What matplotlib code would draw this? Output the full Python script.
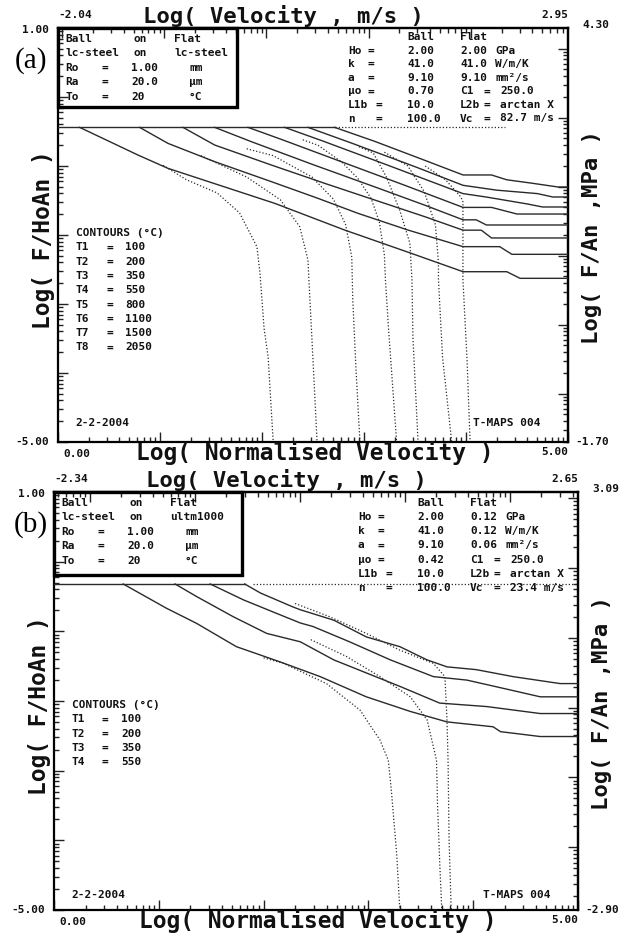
import numpy as np
import matplotlib
matplotlib.use('Agg')
import matplotlib.pyplot as plt
from matplotlib.patches import Rectangle

MONO = 'DejaVu Sans Mono'
W, H = 630, 939

# ---------------- Panel (a) data ----------------
a_top_range = [-2.04, 2.95]
a_right_range = [-1.70, 4.30]
a_plateau_y = -0.44
a_plateau_solid_x = [0.0, 2.712]
a_plateau_dot_x = [2.712, 4.38]

a_T1_x = [0.212, 0.784, 1.078, 2.124, 2.81, 3.464, 3.971, 4.40, 4.53, 5.0]
a_T1_y = [-0.44, -0.841, -1.034, -1.541, -1.928, -2.266, -2.532, -2.532, -2.628, -2.628]
a_T2_x = [0.80, 1.078, 1.536, 2.092, 2.549, 2.941, 3.431, 3.971, 4.33, 4.45, 5.0]
a_T2_y = [-0.44, -0.672, -0.937, -1.227, -1.469, -1.686, -1.928, -2.169, -2.169, -2.28, -2.28]
a_T3_x = [1.225, 1.536, 2.092, 2.614, 3.105, 3.595, 3.971, 4.15, 4.25, 5.0]
a_T3_y = [-0.44, -0.696, -0.986, -1.251, -1.493, -1.734, -1.93, -1.93, -2.043, -2.043]
a_T4_x = [1.536, 1.9, 2.5, 3.1, 3.6, 3.971, 4.10, 4.2, 5.0]
a_T4_y = [-0.44, -0.65, -0.98, -1.30, -1.57, -1.78, -1.78, -1.855, -1.855]
a_T5_x = [1.863, 2.2, 2.8, 3.4, 3.971, 4.25, 4.5, 5.0]
a_T5_y = [-0.44, -0.62, -0.95, -1.28, -1.60, -1.60, -1.696, -1.696]
a_T6_x = [2.222, 2.6, 3.2, 3.971, 4.2, 4.6, 4.75, 5.0]
a_T6_y = [-0.44, -0.64, -0.97, -1.40, -1.45, -1.55, -1.594, -1.594]
a_T7_x = [2.451, 2.9, 3.5, 3.971, 4.3, 4.7, 4.85, 5.0]
a_T7_y = [-0.44, -0.68, -1.01, -1.28, -1.35, -1.40, -1.449, -1.449]
a_T8_x = [2.712, 3.1, 3.6, 3.971, 4.25, 4.4, 4.65, 4.9, 5.0]
a_T8_y = [-0.44, -0.64, -0.92, -1.13, -1.13, -1.20, -1.25, -1.304, -1.304]

a_D1_x = [1.03, 1.26, 1.56, 1.78, 1.95, 1.98, 2.02, 2.06, 2.11]
a_D1_y = [-0.99, -1.20, -1.39, -1.68, -2.17, -2.55, -3.35, -3.77, -5.0]
a_D2_x = [1.40, 1.56, 1.85, 2.18, 2.37, 2.45, 2.47, 2.50, 2.54]
a_D2_y = [-0.85, -0.96, -1.16, -1.49, -1.88, -2.36, -2.94, -3.81, -5.0]
a_D3_x = [1.85, 2.11, 2.49, 2.70, 2.82, 2.88, 2.89, 2.92, 2.96]
a_D3_y = [-0.75, -0.85, -1.16, -1.48, -1.85, -2.32, -2.94, -3.90, -5.0]
a_D4_x = [2.40, 2.55, 2.78, 2.94, 3.07, 3.15, 3.20, 3.21, 3.24, 3.32]
a_D4_y = [-0.62, -0.70, -0.94, -1.18, -1.47, -1.81, -2.29, -2.65, -3.35, -5.0]
a_D5_x = [2.95, 3.09, 3.22, 3.35, 3.45, 3.47, 3.48, 3.53]
a_D5_y = [-0.72, -0.81, -1.16, -1.64, -2.12, -2.65, -3.50, -5.0]
a_D6_x = [3.20, 3.43, 3.59, 3.70, 3.73, 3.73, 3.77, 3.86]
a_D6_y = [-0.80, -1.00, -1.37, -1.85, -2.40, -2.65, -3.77, -5.0]
a_D7_x = [3.60, 3.80, 3.95, 3.97, 3.97, 4.01, 4.04]
a_D7_y = [-1.00, -1.20, -1.45, -1.52, -2.65, -3.80, -5.0]

a_contours = ['100', '200', '350', '550', '800', '1100', '1500', '2050']

# ---------------- Panel (b) data ----------------
b_top_range = [-2.34, 2.65]
b_right_range = [-2.90, 3.09]
b_plateau_y = -0.32
b_plateau_solid_x = [0.0, 1.82]
b_plateau_dot_x = [1.90, 5.0]

b_T1_x = [0.66, 1.075, 1.36, 1.74, 2.16, 2.54, 2.98, 3.40, 3.75, 4.19, 4.26, 4.64, 5.0]
b_T1_y = [-0.32, -0.67, -0.885, -1.22, -1.44, -1.65, -1.94, -2.15, -2.30, -2.37, -2.44, -2.51, -2.51]
b_T2_x = [1.155, 1.36, 1.71, 2.03, 2.35, 2.67, 3.30, 3.68, 4.13, 4.64, 5.0]
b_T2_y = [-0.32, -0.50, -0.79, -1.03, -1.15, -1.41, -1.79, -2.03, -2.08, -2.18, -2.18]
b_T3_x = [1.49, 1.81, 2.12, 2.35, 2.47, 2.82, 3.21, 3.62, 3.94, 4.35, 4.64, 5.0]
b_T3_y = [-0.32, -0.55, -0.74, -0.88, -0.93, -1.15, -1.41, -1.65, -1.70, -1.84, -1.94, -1.94]
b_T4_x = [1.82, 1.97, 2.28, 2.35, 2.67, 2.98, 3.30, 3.56, 3.75, 4.03, 4.38, 4.83, 5.0]
b_T4_y = [-0.32, -0.45, -0.65, -0.69, -0.84, -1.08, -1.22, -1.41, -1.51, -1.55, -1.65, -1.75, -1.75]

b_D1_x = [2.00, 2.19, 2.60, 2.92, 3.11, 3.19, 3.22, 3.27, 3.30]
b_D1_y = [-1.38, -1.46, -1.75, -2.13, -2.56, -2.85, -3.30, -4.20, -5.0]
b_D2_x = [2.45, 2.79, 3.11, 3.40, 3.56, 3.65, 3.66, 3.68, 3.70]
b_D2_y = [-1.12, -1.36, -1.65, -1.94, -2.27, -2.85, -3.50, -4.30, -5.0]
b_D3_x = [2.30, 2.63, 2.98, 3.30, 3.62, 3.73, 3.75, 3.76, 3.77, 3.79]
b_D3_y = [-0.60, -0.79, -1.03, -1.27, -1.46, -1.65, -2.27, -2.85, -4.00, -5.0]

b_contours = ['100', '200', '350', '550']

# ---------------- helpers ----------------
fig = plt.figure(figsize=(6.3, 9.39), dpi=100)
SMALL = 8.0


def fx(px):
    return px / W


def fy(py):
    return 1 - py / H


def log_ticks(lo, hi):
    majors, minors = [], []
    for k in range(int(np.floor(lo)) - 1, int(np.ceil(hi)) + 1):
        if lo - 1e-9 <= k <= hi + 1e-9:
            majors.append(k)
        for m in range(2, 10):
            v = k + np.log10(m)
            if lo < v < hi:
                minors.append(v)
    return majors, minors


def make_panel(rect_px, top_rng, right_rng):
    l, r, t, b = rect_px
    ax = fig.add_axes([fx(l), fy(b), (r - l) / W, (b - t) / H])
    ax.set_xlim(0, 5)
    ax.set_ylim(-5, 1)
    for s in ax.spines.values():
        s.set_linewidth(1.6)
    mj, mn = log_ticks(0, 5)
    ax.set_xticks(mj)
    ax.set_xticks(mn, minor=True)
    mj, mn = log_ticks(-5, 1)
    ax.set_yticks(mj)
    ax.set_yticks(mn, minor=True)
    ax.tick_params(which='both', direction='in', labelbottom=False, labelleft=False,
                   top=False, right=False, width=1.0, color='#222222')
    ax.tick_params(which='major', length=7)
    ax.tick_params(which='minor', length=3.5)
    t0, t1 = top_rng
    sx = ax.secondary_xaxis('top', functions=(lambda x: t0 + x * (t1 - t0) / 5.0,
                                              lambda v: (v - t0) * 5.0 / (t1 - t0)))
    mj, mn = log_ticks(t0, t1)
    sx.set_xticks(mj)
    sx.set_xticks(mn, minor=True)
    sx.tick_params(which='both', direction='in', labeltop=False, width=1.0, color='#222222')
    sx.tick_params(which='major', length=7)
    sx.tick_params(which='minor', length=3.5)
    sx.spines['top'].set_linewidth(1.6)
    r0, r1 = right_rng
    sy = ax.secondary_yaxis('right', functions=(lambda y: r0 + (y + 5) * (r1 - r0) / 6.0,
                                                lambda v: (v - r0) * 6.0 / (r1 - r0) - 5))
    mj, mn = log_ticks(r0, r1)
    sy.set_yticks(mj)
    sy.set_yticks(mn, minor=True)
    sy.tick_params(which='both', direction='in', labelright=False, width=1.0, color='#222222')
    sy.tick_params(which='major', length=7)
    sy.tick_params(which='minor', length=3.5)
    sy.spines['right'].set_linewidth(1.6)
    return ax


def solid(ax, x, y):
    ax.plot(x, y, color='#2a2a2a', lw=1.0, solid_joinstyle='miter', zorder=3)


def dotted(ax, x, y):
    ax.plot(x, y, color='#2a2a2a', lw=0.9, linestyle=(0, (1, 1.6)), zorder=2)


def ftext(px, py, s, size=SMALL, ha='left', va='center', weight='bold', **kw):
    fig.text(fx(px), fy(py), s, fontsize=size, ha=ha, va=va, family=MONO,
             weight=weight, color='#111111', **kw)


# ---------------- Panel (a) ----------------
axa = make_panel((58, 568, 28, 442), a_top_range, a_right_range)
solid(axa, a_plateau_solid_x, [a_plateau_y] * 2)
dotted(axa, a_plateau_dot_x, [a_plateau_y] * 2)
for xs, ys in [(a_T1_x, a_T1_y), (a_T2_x, a_T2_y), (a_T3_x, a_T3_y), (a_T4_x, a_T4_y),
               (a_T5_x, a_T5_y), (a_T6_x, a_T6_y), (a_T7_x, a_T7_y), (a_T8_x, a_T8_y)]:
    solid(axa, xs, ys)
for xs, ys in [(a_D1_x, a_D1_y), (a_D2_x, a_D2_y), (a_D3_x, a_D3_y), (a_D4_x, a_D4_y),
               (a_D5_x, a_D5_y), (a_D6_x, a_D6_y), (a_D7_x, a_D7_y)]:
    dotted(axa, xs, ys)

# ---------------- Panel (b) ----------------
axb = make_panel((54, 578, 492, 910), b_top_range, b_right_range)
solid(axb, b_plateau_solid_x, [b_plateau_y] * 2)
dotted(axb, b_plateau_dot_x, [b_plateau_y] * 2)
for xs, ys in [(b_T1_x, b_T1_y), (b_T2_x, b_T2_y), (b_T3_x, b_T3_y), (b_T4_x, b_T4_y)]:
    solid(axb, xs, ys)
for xs, ys in [(b_D1_x, b_D1_y), (b_D2_x, b_D2_y), (b_D3_x, b_D3_y)]:
    dotted(axb, xs, ys)


# ---------------- text decorations ----------------
def panel_text(l, r, t, b, top_rng, right_rng, box_r, box_b, flat_mat,
               props, contours, cont_y0, date_y, letter, row0, rowstep, hdr):
    fig.patches.append(Rectangle((fx(l), fy(box_b)), (box_r - l) / W, (box_b - t) / H,
                                 transform=fig.transFigure, fill=False, lw=2.4,
                                 edgecolor='black', zorder=5))
    rows = [('Ball', 'on', 'Flat'), ('lc-steel', 'on', flat_mat),
            ('Ro', '=', '1.00', 'mm'), ('Ra', '=', '20.0', 'μm'), ('To', '=', '20', '°C')]
    for i, row in enumerate(rows):
        yy = t + 11 + i * 14.4
        ftext(l + 7, yy, row[0])
        if len(row) == 3:
            ftext(l + 76, yy, row[1])
            ftext(l + 116, yy, row[2])
        else:
            ftext(l + 43, yy, row[1])
            ftext(l + 73, yy, row[2])
            ftext(l + 131, yy, row[3])
    # right block
    c0 = r - 220
    ftext(c0 + 59, t + hdr, 'Ball')
    ftext(c0 + 112, t + hdr, 'Flat')
    for i, (nm, eq, v1, v2, eq2, v3) in enumerate(props):
        yy = t + row0 + i * rowstep
        ftext(c0, yy, nm)
        ftext(c0 + eq, yy, '=')
        ftext(c0 + 59, yy, v1)
        ftext(c0 + 112, yy, v2)
        if eq2:
            ftext(c0 + 135, yy, '=')
            ftext(c0 + 152, yy, v3)
        else:
            ftext(c0 + 147, yy, v3)
    # contours
    ftext(l + 18, cont_y0, 'CONTOURS (°C)')
    for i, c in enumerate(contours):
        yy = cont_y0 + 14.3 * (i + 1)
        ftext(l + 18, yy, 'T%d' % (i + 1))
        ftext(l + 48, yy, '=')
        ftext(l + 67, yy, c)
    ftext(l + 17, date_y, '2-2-2004')
    ftext(r - 95, date_y, 'T-MAPS 004')
    # axis end labels
    ftext(l, t - 13, '%.2f' % top_rng[0], ha='left')
    ftext(r, t - 13, '%.2f' % top_rng[1], ha='right')
    ftext(r + 14, t - 3, '%.2f' % right_rng[1], ha='left')
    ftext(r + 7, b, '%.2f' % right_rng[0], ha='left')
    ftext(l - 9, t + 2, '1.00', ha='right')
    ftext(l - 9, b, '-5.00', ha='right')
    ftext(l + 5, b + 12, '0.00', ha='left')
    ftext(r, b + 10, '5.00', ha='right')
    # axis titles
    ftext((l + r) / 2 - 30, t - 12, 'Log( Velocity , m/s )', size=16, ha='center')
    ftext((l + r) / 2 + 2, b + 11, 'Log( Normalised Velocity )', size=16.5, ha='center')
    ftext(l - 14, (t + b) / 2 + 5, 'Log( F/HoAn )', size=16.5, ha='center', rotation=90)
    ftext(r + 24, (t + b) / 2 + 2, 'Log( F/An ,MPa )', size=16, ha='center', rotation=90)
    fig.text(fx(31), fy(t + 33), letter, fontsize=21, family='Liberation Serif',
             ha='center', va='center')


panel_text(58, 568, 28, 442, a_top_range, a_right_range, 237, 107, 'lc-steel',
           [('Ho', 19, '2.00', '2.00', False, 'GPa'),
            ('k', 19, '41.0', '41.0', False, 'W/m/K'),
            ('a', 19, '9.10', '9.10', False, 'mm²/s'),
            ('μo', 19, '0.70', 'C1', True, '250.0'),
            ('L1b', 27, '10.0', 'L2b', True, 'arctan X'),
            ('n', 27, '100.0', 'Vc', True, '82.7 m/s')],
           a_contours, 233, 423, '(a)', 22.5, 13.6, 9.5)
panel_text(54, 578, 492, 910, b_top_range, b_right_range, 242, 575, 'ultm1000',
           [('Ho', 19, '2.00', '0.12', False, 'GPa'),
            ('k', 19, '41.0', '0.12', False, 'W/m/K'),
            ('a', 19, '9.10', '0.06', False, 'mm²/s'),
            ('μo', 19, '0.42', 'C1', True, '250.0'),
            ('L1b', 28, '10.0', 'L2b', True, 'arctan X'),
            ('n', 28, '100.0', 'Vc', True, '23.4 m/s')],
           b_contours, 705, 895, '(b)', 25, 14.2, 11)

fig.savefig('out.png', dpi=100)
